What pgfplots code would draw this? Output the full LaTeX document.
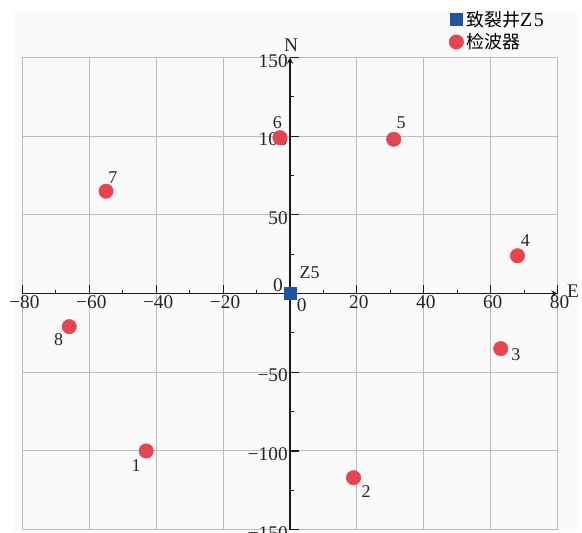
\documentclass[border=0pt]{standalone}
\usepackage{pgfplots}
\usepackage{pgfplotstable}
\pgfplotsset{compat=1.18}
\usepackage{fontspec}
\setmainfont{Liberation Serif}
\newfontfamily\cjk{Noto Sans CJK SC}
\usetikzlibrary{backgrounds}
\definecolor{myred}{HTML}{E54550}
\definecolor{myblue}{HTML}{2253A3}
\definecolor{bgc}{HTML}{FAFAFA}
\definecolor{gridc}{HTML}{BDBDBD}

\pgfplotstableread{
x y lab dx dy
-43 -100 1 -7.5 -11
19 -117 2 9.5 -10
63 -35 3 11.3 -4.5
68 24 4 6 11.3
31 98 5 5.5 12.5
-3 99 6 -2 11.3
-55 65 7 5.2 10.5
-66 -21 8 -8 -10
}\detectors

\pgfplotstableread{
x y
0 0
}\well

\begin{document}
\begin{tikzpicture}
\begin{axis}[
  scale only axis,
  width=401.4pt, height=354.2pt,
  xmin=-80, xmax=80, ymin=-150, ymax=150,
  axis lines=middle,
  axis line style={black!90, line width=1.1pt},
  clip=false,
  hide obscured x ticks=false,
  hide obscured y ticks=false,
  xtick={-80,-60,...,80},
  ytick={-150,-100,...,150},
  xticklabels={−80,−60,−40,−20,,20,40,60,80},
  yticklabels={−150,−100,−50,,50,100,150},
  minor x tick num=1,
  minor y tick num=1,
  tick align=inside,
  major tick length=6.4pt,
  minor tick length=3pt,
  tick style={black!90, line width=0.8pt},
  grid=major,
  major grid style={gridc, line width=0.75pt},
  tick label style={font=\fontsize{14.5}{16}\selectfont, text=black!85},
  xticklabel style={inner sep=1pt, xshift=1.5pt},
  yticklabel style={inner sep=1.5pt, yshift=-2.5pt},
  legend style={at={(axis cs:47.5,181.4)}, anchor=north west, draw=none, fill=none,
    font=\fontsize{13.5}{17}\selectfont, row sep=0pt, inner sep=0pt,
    /tikz/every even column/.append style={column sep=0pt}},
  legend cell align=left,
]
\addplot[only marks, mark=square*, mark size=4.4pt, color=myblue] table[x=x,y=y]{\well};
\addlegendentry{\cjk 致裂井\rmfamily\fontsize{15}{17}\selectfont Z\kern1pt 5}
\addplot[only marks, mark=*, mark size=5.4pt, color=myred,
  nodes near coords, point meta=explicit symbolic,
  visualization depends on={\thisrow{dx}\as\dx},
  visualization depends on={\thisrow{dy}\as\dy},
  every node near coord/.append style={anchor=center, xshift={\dx*1pt}, yshift={\dy*1pt}, text=black!85, font=\fontsize{13.5}{15}\selectfont, inner sep=0pt}
] table[x=x,y=y,meta=lab]{\detectors};
\addlegendentry{\cjk 检波器}

\node[font=\fontsize{14.5}{16}\selectfont, text=black!85] at (axis cs:3.5,-7.3) {0};
\node[font=\fontsize{14.5}{16}\selectfont, text=black!85] at (axis cs:-3.6,5.4) {0};
\node[font=\fontsize{14.5}{16}\selectfont, text=black!85] at (axis cs:0.3,158) {N};
\node[font=\fontsize{14.5}{16}\selectfont, text=black!85] at (axis cs:84.6,1.5) {E};
\node[font=\fontsize{13.5}{15}\selectfont, text=black!85, xshift=14.7pt, yshift=15.5pt] at (axis cs:0,0) {Z5};

\coordinate (pagebl) at (axis cs:-86.70,-151.52);
\coordinate (pagetr) at (axis cs:87.29,186.47);
\coordinate (bgbl) at (axis cs:-82.9,-151.52);
\coordinate (bgtr) at (axis cs:85.8,179.5);
\end{axis}
\begin{scope}[on background layer]
\fill[white] (pagebl) rectangle (pagetr);
\fill[bgc] (bgbl) rectangle (bgtr);
\end{scope}
\pgfresetboundingbox
\path[use as bounding box] (pagebl) rectangle (pagetr);
\end{tikzpicture}
\end{document}
